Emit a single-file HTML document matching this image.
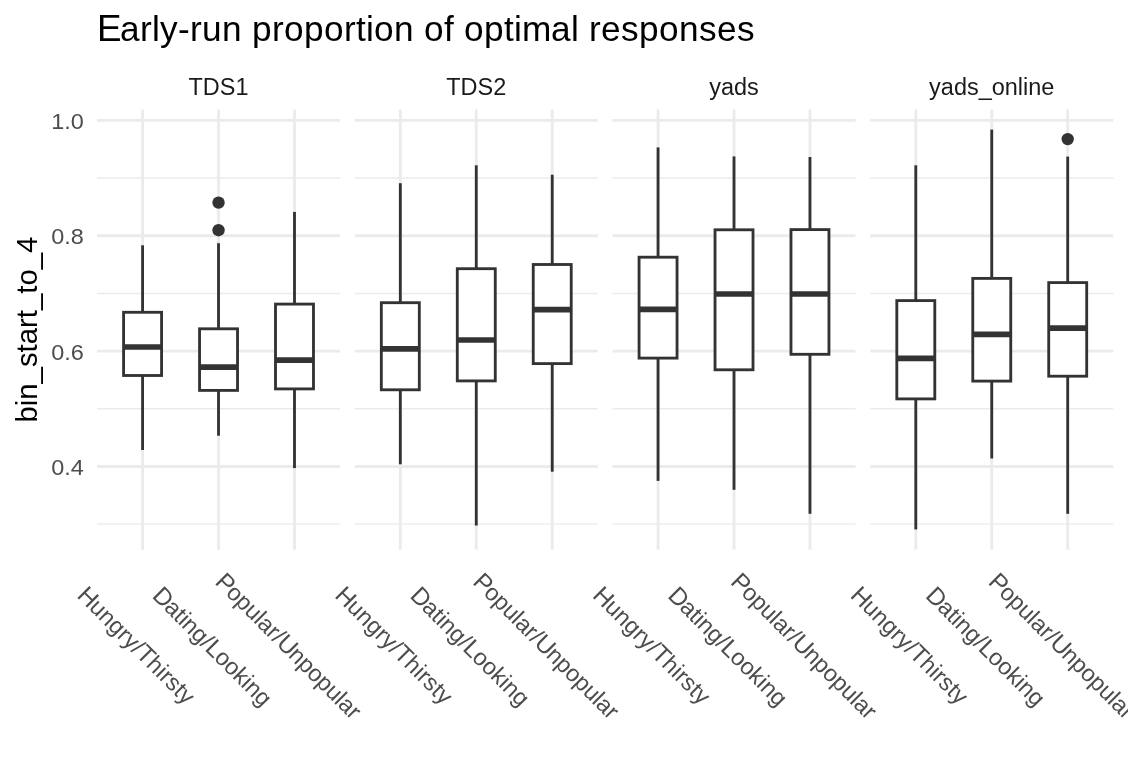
<!DOCTYPE html><html><head><meta charset="utf-8"><style>html,body{margin:0;padding:0;background:#fff;width:1128px;height:768px;overflow:hidden}svg{display:block;will-change:transform}text{font-family:"Liberation Sans",Arial,sans-serif}</style></head><body>
<svg width="1128" height="768" viewBox="0 0 1128 768">
<rect width="1128" height="768" fill="#fff"/>
<line x1="97.00" y1="524.16" x2="340.07" y2="524.16" stroke="#EBEBEB" stroke-width="1.423"/>
<line x1="97.00" y1="408.80" x2="340.07" y2="408.80" stroke="#EBEBEB" stroke-width="1.423"/>
<line x1="97.00" y1="293.44" x2="340.07" y2="293.44" stroke="#EBEBEB" stroke-width="1.423"/>
<line x1="97.00" y1="178.08" x2="340.07" y2="178.08" stroke="#EBEBEB" stroke-width="1.423"/>
<line x1="97.00" y1="466.48" x2="340.07" y2="466.48" stroke="#EBEBEB" stroke-width="2.845"/>
<line x1="97.00" y1="351.12" x2="340.07" y2="351.12" stroke="#EBEBEB" stroke-width="2.845"/>
<line x1="97.00" y1="235.76" x2="340.07" y2="235.76" stroke="#EBEBEB" stroke-width="2.845"/>
<line x1="97.00" y1="120.40" x2="340.07" y2="120.40" stroke="#EBEBEB" stroke-width="2.845"/>
<line x1="142.58" y1="109.4" x2="142.58" y2="549.8" stroke="#EBEBEB" stroke-width="2.845"/>
<line x1="218.53" y1="109.4" x2="218.53" y2="549.8" stroke="#EBEBEB" stroke-width="2.845"/>
<line x1="294.49" y1="109.4" x2="294.49" y2="549.8" stroke="#EBEBEB" stroke-width="2.845"/>
<line x1="354.74" y1="524.16" x2="597.81" y2="524.16" stroke="#EBEBEB" stroke-width="1.423"/>
<line x1="354.74" y1="408.80" x2="597.81" y2="408.80" stroke="#EBEBEB" stroke-width="1.423"/>
<line x1="354.74" y1="293.44" x2="597.81" y2="293.44" stroke="#EBEBEB" stroke-width="1.423"/>
<line x1="354.74" y1="178.08" x2="597.81" y2="178.08" stroke="#EBEBEB" stroke-width="1.423"/>
<line x1="354.74" y1="466.48" x2="597.81" y2="466.48" stroke="#EBEBEB" stroke-width="2.845"/>
<line x1="354.74" y1="351.12" x2="597.81" y2="351.12" stroke="#EBEBEB" stroke-width="2.845"/>
<line x1="354.74" y1="235.76" x2="597.81" y2="235.76" stroke="#EBEBEB" stroke-width="2.845"/>
<line x1="354.74" y1="120.40" x2="597.81" y2="120.40" stroke="#EBEBEB" stroke-width="2.845"/>
<line x1="400.32" y1="109.4" x2="400.32" y2="549.8" stroke="#EBEBEB" stroke-width="2.845"/>
<line x1="476.27" y1="109.4" x2="476.27" y2="549.8" stroke="#EBEBEB" stroke-width="2.845"/>
<line x1="552.23" y1="109.4" x2="552.23" y2="549.8" stroke="#EBEBEB" stroke-width="2.845"/>
<line x1="612.48" y1="524.16" x2="855.55" y2="524.16" stroke="#EBEBEB" stroke-width="1.423"/>
<line x1="612.48" y1="408.80" x2="855.55" y2="408.80" stroke="#EBEBEB" stroke-width="1.423"/>
<line x1="612.48" y1="293.44" x2="855.55" y2="293.44" stroke="#EBEBEB" stroke-width="1.423"/>
<line x1="612.48" y1="178.08" x2="855.55" y2="178.08" stroke="#EBEBEB" stroke-width="1.423"/>
<line x1="612.48" y1="466.48" x2="855.55" y2="466.48" stroke="#EBEBEB" stroke-width="2.845"/>
<line x1="612.48" y1="351.12" x2="855.55" y2="351.12" stroke="#EBEBEB" stroke-width="2.845"/>
<line x1="612.48" y1="235.76" x2="855.55" y2="235.76" stroke="#EBEBEB" stroke-width="2.845"/>
<line x1="612.48" y1="120.40" x2="855.55" y2="120.40" stroke="#EBEBEB" stroke-width="2.845"/>
<line x1="658.06" y1="109.4" x2="658.06" y2="549.8" stroke="#EBEBEB" stroke-width="2.845"/>
<line x1="734.01" y1="109.4" x2="734.01" y2="549.8" stroke="#EBEBEB" stroke-width="2.845"/>
<line x1="809.97" y1="109.4" x2="809.97" y2="549.8" stroke="#EBEBEB" stroke-width="2.845"/>
<line x1="870.22" y1="524.16" x2="1113.29" y2="524.16" stroke="#EBEBEB" stroke-width="1.423"/>
<line x1="870.22" y1="408.80" x2="1113.29" y2="408.80" stroke="#EBEBEB" stroke-width="1.423"/>
<line x1="870.22" y1="293.44" x2="1113.29" y2="293.44" stroke="#EBEBEB" stroke-width="1.423"/>
<line x1="870.22" y1="178.08" x2="1113.29" y2="178.08" stroke="#EBEBEB" stroke-width="1.423"/>
<line x1="870.22" y1="466.48" x2="1113.29" y2="466.48" stroke="#EBEBEB" stroke-width="2.845"/>
<line x1="870.22" y1="351.12" x2="1113.29" y2="351.12" stroke="#EBEBEB" stroke-width="2.845"/>
<line x1="870.22" y1="235.76" x2="1113.29" y2="235.76" stroke="#EBEBEB" stroke-width="2.845"/>
<line x1="870.22" y1="120.40" x2="1113.29" y2="120.40" stroke="#EBEBEB" stroke-width="2.845"/>
<line x1="915.80" y1="109.4" x2="915.80" y2="549.8" stroke="#EBEBEB" stroke-width="2.845"/>
<line x1="991.75" y1="109.4" x2="991.75" y2="549.8" stroke="#EBEBEB" stroke-width="2.845"/>
<line x1="1067.71" y1="109.4" x2="1067.71" y2="549.8" stroke="#EBEBEB" stroke-width="2.845"/>
<line x1="142.58" y1="312.3" x2="142.58" y2="245.3" stroke="#333333" stroke-width="2.845"/>
<line x1="142.58" y1="375.5" x2="142.58" y2="450.0" stroke="#333333" stroke-width="2.845"/>
<rect x="123.59" y="312.3" width="37.98" height="63.20" fill="#fff" stroke="#333333" stroke-width="2.845"/>
<line x1="123.59" y1="347.0" x2="161.57" y2="347.0" stroke="#333333" stroke-width="5.690"/>
<line x1="218.53" y1="328.8" x2="218.53" y2="243.2" stroke="#333333" stroke-width="2.845"/>
<line x1="218.53" y1="390.4" x2="218.53" y2="435.7" stroke="#333333" stroke-width="2.845"/>
<rect x="199.55" y="328.8" width="37.98" height="61.60" fill="#fff" stroke="#333333" stroke-width="2.845"/>
<line x1="199.55" y1="367.2" x2="237.52" y2="367.2" stroke="#333333" stroke-width="5.690"/>
<circle cx="218.53" cy="202.6" r="6.2" fill="#333333"/>
<circle cx="218.53" cy="230.2" r="6.2" fill="#333333"/>
<line x1="294.49" y1="304.1" x2="294.49" y2="211.9" stroke="#333333" stroke-width="2.845"/>
<line x1="294.49" y1="388.9" x2="294.49" y2="468.1" stroke="#333333" stroke-width="2.845"/>
<rect x="275.50" y="304.1" width="37.98" height="84.80" fill="#fff" stroke="#333333" stroke-width="2.845"/>
<line x1="275.50" y1="360.2" x2="313.48" y2="360.2" stroke="#333333" stroke-width="5.690"/>
<line x1="400.32" y1="302.7" x2="400.32" y2="183.2" stroke="#333333" stroke-width="2.845"/>
<line x1="400.32" y1="389.8" x2="400.32" y2="464.3" stroke="#333333" stroke-width="2.845"/>
<rect x="381.33" y="302.7" width="37.98" height="87.10" fill="#fff" stroke="#333333" stroke-width="2.845"/>
<line x1="381.33" y1="348.9" x2="419.31" y2="348.9" stroke="#333333" stroke-width="5.690"/>
<line x1="476.27" y1="268.7" x2="476.27" y2="165.3" stroke="#333333" stroke-width="2.845"/>
<line x1="476.27" y1="380.9" x2="476.27" y2="525.5" stroke="#333333" stroke-width="2.845"/>
<rect x="457.29" y="268.7" width="37.98" height="112.20" fill="#fff" stroke="#333333" stroke-width="2.845"/>
<line x1="457.29" y1="340.0" x2="495.26" y2="340.0" stroke="#333333" stroke-width="5.690"/>
<line x1="552.23" y1="264.5" x2="552.23" y2="174.7" stroke="#333333" stroke-width="2.845"/>
<line x1="552.23" y1="363.6" x2="552.23" y2="471.7" stroke="#333333" stroke-width="2.845"/>
<rect x="533.24" y="264.5" width="37.98" height="99.10" fill="#fff" stroke="#333333" stroke-width="2.845"/>
<line x1="533.24" y1="309.6" x2="571.22" y2="309.6" stroke="#333333" stroke-width="5.690"/>
<line x1="658.06" y1="257.2" x2="658.06" y2="147.4" stroke="#333333" stroke-width="2.845"/>
<line x1="658.06" y1="358.1" x2="658.06" y2="480.9" stroke="#333333" stroke-width="2.845"/>
<rect x="639.07" y="257.2" width="37.98" height="100.90" fill="#fff" stroke="#333333" stroke-width="2.845"/>
<line x1="639.07" y1="309.4" x2="677.05" y2="309.4" stroke="#333333" stroke-width="5.690"/>
<line x1="734.01" y1="229.8" x2="734.01" y2="156.4" stroke="#333333" stroke-width="2.845"/>
<line x1="734.01" y1="369.8" x2="734.01" y2="489.8" stroke="#333333" stroke-width="2.845"/>
<rect x="715.03" y="229.8" width="37.98" height="140.00" fill="#fff" stroke="#333333" stroke-width="2.845"/>
<line x1="715.03" y1="294.0" x2="753.00" y2="294.0" stroke="#333333" stroke-width="5.690"/>
<line x1="809.97" y1="229.6" x2="809.97" y2="157.0" stroke="#333333" stroke-width="2.845"/>
<line x1="809.97" y1="354.3" x2="809.97" y2="513.8" stroke="#333333" stroke-width="2.845"/>
<rect x="790.98" y="229.6" width="37.98" height="124.70" fill="#fff" stroke="#333333" stroke-width="2.845"/>
<line x1="790.98" y1="294.0" x2="828.96" y2="294.0" stroke="#333333" stroke-width="5.690"/>
<line x1="915.80" y1="300.6" x2="915.80" y2="165.3" stroke="#333333" stroke-width="2.845"/>
<line x1="915.80" y1="398.9" x2="915.80" y2="529.4" stroke="#333333" stroke-width="2.845"/>
<rect x="896.81" y="300.6" width="37.98" height="98.30" fill="#fff" stroke="#333333" stroke-width="2.845"/>
<line x1="896.81" y1="358.3" x2="934.79" y2="358.3" stroke="#333333" stroke-width="5.690"/>
<line x1="991.75" y1="278.4" x2="991.75" y2="129.6" stroke="#333333" stroke-width="2.845"/>
<line x1="991.75" y1="381.1" x2="991.75" y2="458.5" stroke="#333333" stroke-width="2.845"/>
<rect x="972.77" y="278.4" width="37.98" height="102.70" fill="#fff" stroke="#333333" stroke-width="2.845"/>
<line x1="972.77" y1="334.3" x2="1010.74" y2="334.3" stroke="#333333" stroke-width="5.690"/>
<line x1="1067.71" y1="282.6" x2="1067.71" y2="156.6" stroke="#333333" stroke-width="2.845"/>
<line x1="1067.71" y1="376.2" x2="1067.71" y2="513.8" stroke="#333333" stroke-width="2.845"/>
<rect x="1048.72" y="282.6" width="37.98" height="93.60" fill="#fff" stroke="#333333" stroke-width="2.845"/>
<line x1="1048.72" y1="328.1" x2="1086.70" y2="328.1" stroke="#333333" stroke-width="5.690"/>
<circle cx="1067.71" cy="139.1" r="6.2" fill="#333333"/>
<text x="97.00 120.00 140.00 152.00 160.00 178.00 190.00 202.00 222.00 242.00 252.00 272.00 284.00 304.00 324.00 344.00 356.00 366.00 374.00 394.00 414.00 424.00 444.00 454.00 464.00 484.00 504.00 514.00 522.00 551.00 571.00 579.00 589.00 601.00 621.00 639.00 659.00 679.00 699.00 717.00 737.00" y="40.9" font-size="35.2" fill="#000"><tspan font-size="36.75">E</tspan>arly-run proportion of optimal responses</text>
<text x="218.53" y="94.8" font-size="23.47" fill="#1A1A1A" text-anchor="middle">TDS1</text>
<text x="476.27" y="94.8" font-size="23.47" fill="#1A1A1A" text-anchor="middle">TDS2</text>
<text x="734.01" y="94.8" font-size="23.47" fill="#1A1A1A" text-anchor="middle">yads</text>
<text x="991.75" y="94.8" font-size="23.47" fill="#1A1A1A" text-anchor="middle">yads_online</text>
<text transform="translate(83.8,128.80) scale(1,0.975)" font-size="23.47" fill="#4D4D4D" text-anchor="end">1.0</text>
<text transform="translate(83.8,244.16) scale(1,0.975)" font-size="23.47" fill="#4D4D4D" text-anchor="end">0.8</text>
<text transform="translate(83.8,359.52) scale(1,0.975)" font-size="23.47" fill="#4D4D4D" text-anchor="end">0.6</text>
<text transform="translate(83.8,474.88) scale(1,0.975)" font-size="23.47" fill="#4D4D4D" text-anchor="end">0.4</text>
<text transform="translate(37,329.6) rotate(-90)" font-size="29.33" fill="#000" text-anchor="middle">bin_start_to_4</text>
<text transform="translate(130.80,651.12) rotate(45)" x="-77.40 -60.21 -46.96 -33.72 -20.48 -12.55 -0.65 5.97 20.51 33.76 39.05 46.98 58.88 65.50" y="0" font-size="23.47" fill="#4D4D4D"><tspan font-size="24.50">H</tspan>ungry/<tspan font-size="24.50">T</tspan>hirsty</text>
<text transform="translate(206.77,652.27) rotate(45)" x="-78.57 -61.56 -48.46 -41.92 -36.68 -23.58 -10.48 -3.94 9.16 22.26 35.36 47.14 52.37 65.47" y="0" font-size="23.47" fill="#4D4D4D"><tspan font-size="24.50">D</tspan>ating/<tspan font-size="24.50">L</tspan>ooking</text>
<text transform="translate(282.89,651.72) rotate(45)" x="-97.31 -81.74 -68.76 -55.78 -42.80 -37.62 -24.64 -16.87 -10.38 6.47 19.45 32.43 45.41 58.39 71.37 76.56 89.54" y="0" font-size="23.47" fill="#4D4D4D"><tspan font-size="24.50">P</tspan>opular/<tspan font-size="24.50">U</tspan>npopular</text>
<text transform="translate(388.54,651.12) rotate(45)" x="-77.40 -60.21 -46.96 -33.72 -20.48 -12.55 -0.65 5.97 20.51 33.76 39.05 46.98 58.88 65.50" y="0" font-size="23.47" fill="#4D4D4D"><tspan font-size="24.50">H</tspan>ungry/<tspan font-size="24.50">T</tspan>hirsty</text>
<text transform="translate(464.51,652.27) rotate(45)" x="-78.57 -61.56 -48.46 -41.92 -36.68 -23.58 -10.48 -3.94 9.16 22.26 35.36 47.14 52.37 65.47" y="0" font-size="23.47" fill="#4D4D4D"><tspan font-size="24.50">D</tspan>ating/<tspan font-size="24.50">L</tspan>ooking</text>
<text transform="translate(540.63,651.72) rotate(45)" x="-97.31 -81.74 -68.76 -55.78 -42.80 -37.62 -24.64 -16.87 -10.38 6.47 19.45 32.43 45.41 58.39 71.37 76.56 89.54" y="0" font-size="23.47" fill="#4D4D4D"><tspan font-size="24.50">P</tspan>opular/<tspan font-size="24.50">U</tspan>npopular</text>
<text transform="translate(646.28,651.12) rotate(45)" x="-77.40 -60.21 -46.96 -33.72 -20.48 -12.55 -0.65 5.97 20.51 33.76 39.05 46.98 58.88 65.50" y="0" font-size="23.47" fill="#4D4D4D"><tspan font-size="24.50">H</tspan>ungry/<tspan font-size="24.50">T</tspan>hirsty</text>
<text transform="translate(722.25,652.27) rotate(45)" x="-78.57 -61.56 -48.46 -41.92 -36.68 -23.58 -10.48 -3.94 9.16 22.26 35.36 47.14 52.37 65.47" y="0" font-size="23.47" fill="#4D4D4D"><tspan font-size="24.50">D</tspan>ating/<tspan font-size="24.50">L</tspan>ooking</text>
<text transform="translate(798.37,651.72) rotate(45)" x="-97.31 -81.74 -68.76 -55.78 -42.80 -37.62 -24.64 -16.87 -10.38 6.47 19.45 32.43 45.41 58.39 71.37 76.56 89.54" y="0" font-size="23.47" fill="#4D4D4D"><tspan font-size="24.50">P</tspan>opular/<tspan font-size="24.50">U</tspan>npopular</text>
<text transform="translate(904.02,651.12) rotate(45)" x="-77.40 -60.21 -46.96 -33.72 -20.48 -12.55 -0.65 5.97 20.51 33.76 39.05 46.98 58.88 65.50" y="0" font-size="23.47" fill="#4D4D4D"><tspan font-size="24.50">H</tspan>ungry/<tspan font-size="24.50">T</tspan>hirsty</text>
<text transform="translate(979.99,652.27) rotate(45)" x="-78.57 -61.56 -48.46 -41.92 -36.68 -23.58 -10.48 -3.94 9.16 22.26 35.36 47.14 52.37 65.47" y="0" font-size="23.47" fill="#4D4D4D"><tspan font-size="24.50">D</tspan>ating/<tspan font-size="24.50">L</tspan>ooking</text>
<text transform="translate(1056.11,651.72) rotate(45)" x="-97.31 -81.74 -68.76 -55.78 -42.80 -37.62 -24.64 -16.87 -10.38 6.47 19.45 32.43 45.41 58.39 71.37 76.56 89.54" y="0" font-size="23.47" fill="#4D4D4D"><tspan font-size="24.50">P</tspan>opular/<tspan font-size="24.50">U</tspan>npopular</text>
</svg></body></html>
